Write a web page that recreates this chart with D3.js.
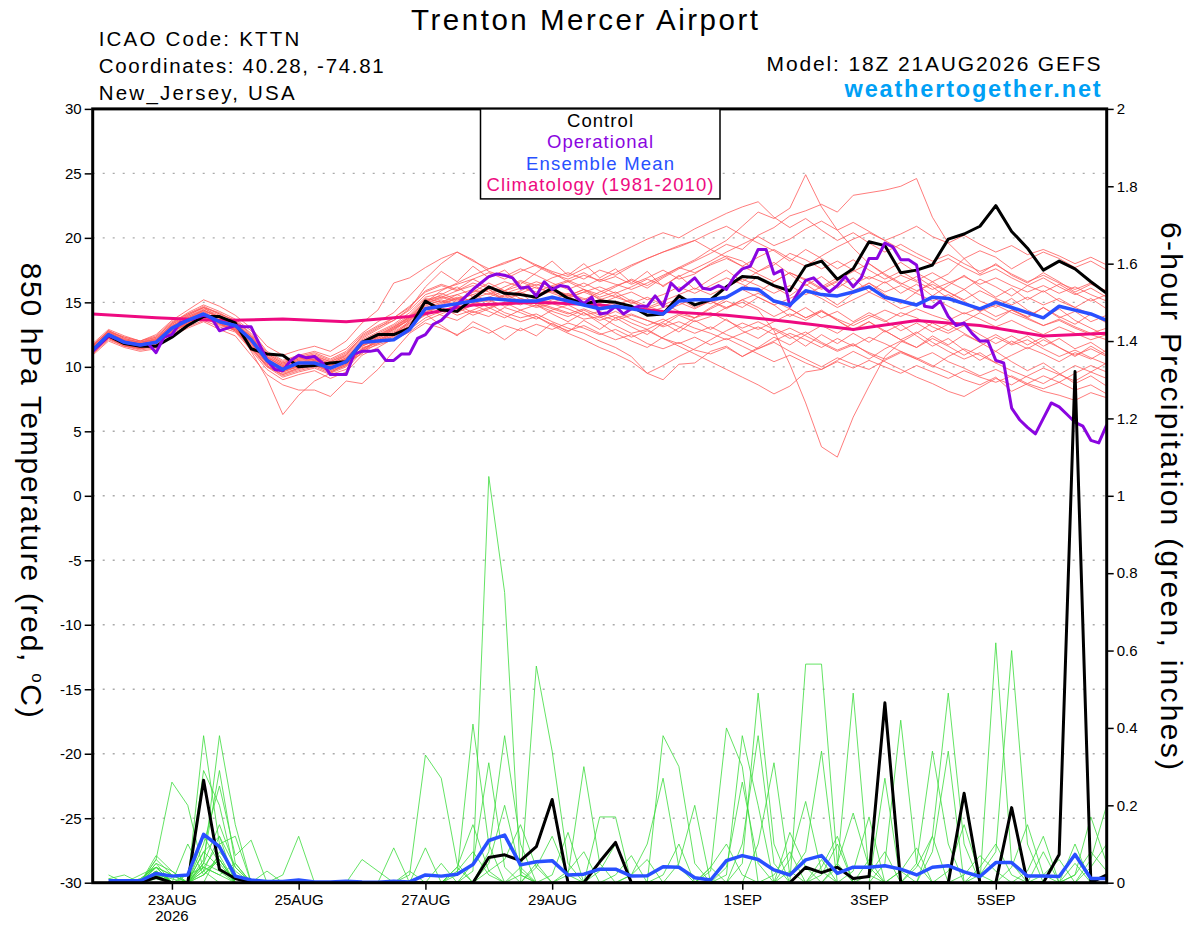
<!DOCTYPE html>
<html>
<head>
<meta charset="utf-8">
<script src="https://cdn.jsdelivr.net/npm/d3@7"></script>
<style>
  body { margin: 0; background: #fff; }
  svg { display: block; }
  text { font-family: "Liberation Sans", Arial, Helvetica, sans-serif; }
</style>
</head>
<body>
<div id="mydiv"></div>
<script>

// run start, 6-hourly steps
const runStart = Date.UTC(2026, 7, 21, 18);
const HOUR = 3600 * 1000;

const xTickDates = [Date.UTC(2026,7,23), Date.UTC(2026,7,25), Date.UTC(2026,7,27), Date.UTC(2026,7,29),
                    Date.UTC(2026,8,1), Date.UTC(2026,8,3), Date.UTC(2026,8,5)];
const xTickLabels = ['23AUG', '25AUG', '27AUG', '29AUG', '1SEP', '3SEP', '5SEP'];
const tempTicks = [-30, -25, -20, -15, -10, -5, 0, 5, 10, 15, 20, 25, 30];
const precTicks = [0, 0.2, 0.4, 0.6, 0.8, 1, 1.2, 1.4, 1.6, 1.8, 2];

// 850 hPa temperature, every 6 h from 21AUG 18Z
const controlTemp = [
  11.3,12.4,11.8,11.6,11.6,12.3,13.2,13.9,13.9,13.4,
  11.4,11.0,10.9,10.0,10.1,10.3,10.4,11.9,12.5,12.5,
  13.0,15.1,14.4,14.3,15.3,16.2,15.7,15.6,15.4,16.1,
  15.3,14.9,15.1,15.0,14.7,14.0,14.1,15.5,14.8,15.2,
  16.2,17.0,16.9,16.3,15.9,17.8,18.2,16.8,17.6,19.7,
  19.4,17.3,17.5,17.9,19.9,20.3,20.9,22.5,20.5,19.2,
  17.5,18.2,17.6,16.6,15.7];

const meanTemp = [
  11.3,12.5,11.9,11.7,11.9,13.0,13.6,14.1,13.5,13.2,
  12.1,10.5,9.8,10.3,10.3,9.9,10.4,11.9,12.0,12.1,
  12.9,14.5,14.7,14.9,15.1,15.3,15.2,15.1,15.1,15.4,
  15.1,14.8,14.5,14.7,14.5,14.3,14.1,15.1,15.2,15.2,
  15.4,16.1,16.0,15.1,14.8,15.9,15.6,15.5,15.8,16.2,
  15.4,15.1,14.8,15.4,15.3,14.9,14.5,15.0,14.6,14.2,
  13.8,14.7,14.4,14.1,13.6];

// operational run, every 3 h
const operTemp = [
  11.2,11.8,12.4,12.2,11.9,11.8,11.7,11.8,11.1,12.3,
  12.5,13.4,13.6,13.8,14.0,13.8,12.8,13.0,13.2,13.1,
  13.1,11.8,10.5,9.8,9.7,10.5,10.9,10.7,10.8,10.3,
  9.4,9.4,9.4,11.0,11.2,11.2,11.3,10.5,10.5,11.0,
  11.0,12.2,12.5,13.3,13.6,14.2,14.8,15.4,16.0,16.5,
  17.0,17.2,17.1,16.9,16.1,16.2,15.5,16.6,16.0,16.3,
  16.2,15.4,14.9,15.4,14.1,14.2,14.7,14.1,14.5,14.7,
  14.7,15.5,14.7,16.5,15.9,16.4,16.9,16.1,16.0,16.3,
  16.0,17.0,17.6,17.8,19.1,19.1,17.2,17.5,14.7,15.7,
  16.7,16.9,16.3,15.8,16.3,17.0,16.2,16.9,18.4,18.4,
  19.6,19.3,18.3,18.3,17.9,14.7,14.6,15.1,13.9,13.2,
  13.4,12.6,12.0,12.0,10.5,10.3,6.8,5.9,5.3,4.8,
  6.0,7.2,6.9,6.3,5.7,5.4,4.3,4.1,5.5];

// 1981-2010 climatology, daily from 21AUG 18Z
const climTemp = [14.1,13.8,13.6,13.7,13.5,13.9,14.8,15.0,14.8,14.3,14.0,13.5,12.9,13.6,13.2,12.4,12.6];

// ensemble members, temperature
const red01 = [11.5,12.6,12.0,11.8,12.2,13.3,13.9,14.5,14.0,13.4, 12.3,10.9,10.2,10.6,10.8,10.2,10.9,12.4,13.1,13.6,
  14.4,15.6,16.0,16.4,16.8,16.2,15.9,16.6,16.1,15.8, 15.5,16.0,15.6,16.2,16.8,16.3,17.0,17.7,18.3,19.1,
  19.8,20.9,22.0,21.5,22.3,24.9,22.4,20.6,19.2,18.0, 17.1,16.4,17.0,16.2,15.3,16.0,15.1,14.6,15.3,14.4, 13.8,14.5,13.6,13.0,12.4];
const red02 = [11.0,12.2,11.7,11.4,11.6,12.8,13.3,13.8,13.2,12.9, 11.7,10.4,9.6,10.0,10.5,10.1,10.6,11.6,12.2,12.8,
  13.7,15.2,15.5,15.1,15.8,16.0,15.4,15.9,16.4,16.0, 15.6,15.2,15.8,16.3,16.7,16.1,16.9,17.6,18.2,18.8,
  19.5,19.1,20.2,20.8,21.7,22.1,22.6,22.0,23.3,23.5, 23.7,24.0,24.6,21.6,19.6,18.4,17.2,18.0,17.1,16.5, 17.3,16.6,15.8,16.4,15.9];
const red03 = [11.3,12.3,11.6,11.5,11.8,12.9,13.6,14.3,13.6,13.0, 11.9,10.3,9.5,9.9,10.2,9.6,10.1,11.5,11.8,12.3,
  13.0,14.2,14.8,15.3,14.9,15.2,14.7,15.0,14.6,14.9, 14.5,14.0,14.3,13.8,14.1,13.6,13.2,14.0,13.5,13.9,
  14.6,15.0,14.4,12.8,10.2,7.2,3.8,3.0,6.1,8.5, 10.8,11.9,12.6,13.4,12.8,13.5,14.2,13.6,14.4,13.9, 14.6,13.8,14.3,13.5,14.0];
const red04 = [11.6,12.8,12.2,11.9,12.1,13.1,14.0,14.6,13.8,13.1, 11.2,9.1,6.3,7.8,8.9,9.5,10.3,11.0,12.4,13.0,
  13.9,14.6,14.0,13.6,14.3,13.9,14.6,14.2,13.7,14.4, 14.8,14.2,13.6,14.0,13.4,12.9,13.5,14.1,13.8,14.5,
  15.1,14.6,15.4,14.8,13.9,14.6,13.8,14.3,13.5,14.2, 13.6,12.8,13.4,12.7,13.3,12.6,11.9,12.5,11.8,12.4, 11.6,12.2,11.4,11.9,11.1];
const red05 = [11.8,12.9,12.4,12.0,12.5,13.6,14.4,15.2,14.7,14.0, 13.0,11.6,10.9,11.3,11.6,11.2,12.0,13.4,14.4,16.5,
  16.9,17.7,18.4,18.9,18.2,17.6,18.0,18.5,17.8,17.2, 16.8,17.3,16.6,17.0,16.4,16.9,17.5,16.8,17.2,18.0,
  18.6,18.2,17.4,17.9,18.8,18.3,17.6,18.2,17.5,16.8, 17.4,18.1,17.3,16.6,17.2,18.4,19.0,18.5,17.6,18.3, 18.9,18.4,17.7,18.2,17.5];
const red06 = [11.2,12.4,11.8,11.6,11.7,12.6,13.2,13.9,13.4,12.8, 11.5,10.0,9.2,9.6,9.9,9.4,9.8,11.2,12.0,12.6,
  13.4,14.3,14.6,14.0,14.4,14.9,14.2,13.8,14.1,13.5, 13.0,12.6,12.0,11.5,10.8,9.5,9.0,10.2,10.3,11.2,
  11.6,10.8,11.5,12.3,11.7,12.5,13.2,12.6,13.4,14.0, 13.5,14.2,13.8,13.1,12.6,13.2,12.5,11.8,12.4,11.7, 12.3,11.5,10.9,11.4,10.8];
const red07 = [11.4,12.5,12.0,11.7,12.0,13.0,13.7,14.2,13.7,13.3, 12.4,10.8,10.0,10.4,10.6,10.2,10.7,11.8,12.3,13.0,
  13.6,14.9,15.3,15.6,15.0,15.4,15.9,15.3,15.0,14.6, 14.2,13.7,13.9,13.2,12.6,12.9,12.2,11.6,11.0,10.4,
  9.8,9.2,8.6,7.9,8.5,9.6,9.8,10.5,11.2,10.6, 11.4,12.0,11.5,12.2,11.6,10.9,11.6,12.3,11.7,12.1, 11.4,10.8,11.3,10.7,10.2];
const red08 = [11.7,12.7,12.1,11.9,12.3,13.4,14.2,14.8,14.3,13.7, 12.8,11.2,10.5,10.9,11.2,10.8,11.4,12.6,13.5,14.2,
  15.5,16.8,18.0,18.9,18.3,17.4,17.0,17.6,17.1,16.5, 16.0,16.5,15.9,15.4,15.8,15.2,15.6,16.2,15.7,16.3,
  16.9,16.4,15.8,16.6,17.3,16.8,16.1,16.7,17.4,18.0, 17.2,16.5,15.9,16.4,15.8,15.2,15.9,15.3,14.8,15.4, 14.8,15.3,14.6,14.1,13.7];
const red09 = [11.1,12.3,11.7,11.5,11.9,12.8,13.5,14.0,13.5,13.1, 12.0,10.6,9.9,10.2,10.4,9.9,10.5,11.7,12.2,12.9,
  13.8,15.0,15.9,16.5,17.1,17.6,18.1,18.5,17.9,17.3, 16.6,16.0,15.4,15.8,15.1,14.5,14.9,14.3,13.8,14.2,
  13.6,13.0,13.5,12.9,12.2,12.7,11.9,11.3,11.8,11.0, 10.4,9.8,9.2,8.7,8.1,7.7,8.4,9.1,8.6,9.3, 9.9,9.4,10.1,9.6,10.3];
const red10 = [11.5,12.6,12.1,11.8,12.0,13.1,13.8,14.3,13.9,13.5, 12.2,10.7,10.1,10.5,10.7,10.3,10.8,12.0,12.6,13.2,
  14.0,15.3,15.0,15.6,16.0,15.6,16.2,16.7,16.3,16.9, 17.3,16.8,17.5,17.1,17.8,18.4,18.9,19.4,19.8,20.4,
  20.9,20.2,19.6,19.0,18.2,19.1,18.4,17.6,18.3,17.5, 16.8,17.4,16.7,17.3,16.6,16.0,16.8,16.2,15.5,16.3, 15.8,16.4,15.7,15.1,15.6];
const red11 = [11.3,12.4,11.9,11.6,11.9,12.9,13.4,14.1,13.6,13.2, 11.8,10.2,9.6,10.1,10.3,9.8,10.3,11.3,12.1,12.7,
  13.5,14.8,15.1,14.7,15.3,15.7,15.2,14.8,15.4,15.9, 15.4,15.0,14.6,15.1,14.7,14.2,14.6,15.0,14.5,15.1,
  14.6,15.2,15.7,15.1,14.5,13.8,14.3,13.6,12.9,13.5, 12.8,12.1,12.7,11.9,11.2,10.6,11.1,10.3,9.7,9.2, 8.7,9.4,8.9,9.6,9.1];
const red12 = [11.0,12.1,11.6,11.3,11.5,12.5,13.1,13.6,13.1,12.7, 11.3,9.8,9.0,9.4,9.7,9.1,9.6,10.9,11.5,12.2,
  12.9,13.8,14.3,14.8,14.2,14.6,14.0,13.5,13.9,13.3, 12.8,13.2,12.6,12.1,12.5,11.8,11.4,11.9,11.3,11.0,
  11.5,10.8,11.4,12.0,12.6,12.1,11.5,12.2,11.6,12.3, 11.8,11.2,10.6,11.1,10.4,9.9,9.3,9.8,9.2,8.6, 8.1,7.8,7.4,8.0,7.6];
const red13 = [11.6,12.7,12.3,12.0,12.4,13.5,14.1,14.7,14.1,13.6, 12.6,11.1,10.4,10.8,11.1,10.6,11.2,12.5,13.2,13.8,
  14.7,15.8,16.3,15.9,16.5,16.1,16.6,16.2,15.8,16.3, 16.7,16.2,16.8,16.4,16.0,16.5,17.1,17.7,17.3,17.9,
  18.4,17.8,18.5,19.1,18.4,17.8,18.6,19.3,19.9,20.4, 19.8,20.3,20.9,20.1,19.6,20.2,19.5,18.9,19.4,18.7, 19.1,18.6,18.0,18.5,17.9];
const red14 = [11.4,12.5,11.9,11.7,11.9,12.9,13.5,14.0,13.4,13.0, 11.9,10.5,9.8,10.2,10.5,10.0,10.4,11.7,12.0,12.4,
  13.2,14.5,14.9,15.3,15.6,15.1,15.5,15.8,15.3,15.0, 15.4,15.8,15.3,14.8,15.2,14.7,14.3,14.8,15.3,14.9,
  15.5,16.0,15.4,14.8,15.3,15.9,15.3,14.6,15.2,15.8, 15.2,14.5,14.9,15.4,14.7,14.1,14.6,13.9,14.4,13.8, 13.2,13.7,13.1,12.6,13.0];
const red15 = [11.2,12.2,11.7,11.4,11.6,12.7,13.3,13.9,13.3,12.9, 11.6,10.1,9.3,9.7,10.0,9.5,10.0,11.4,11.9,12.5,
  13.3,14.0,14.5,14.2,14.8,14.3,13.8,14.4,13.9,13.2, 12.6,12.1,11.5,11.0,10.4,9.5,10.1,10.8,11.4,12.1,
  12.8,13.4,12.9,13.5,14.1,13.6,14.3,13.7,13.2,13.8, 14.4,13.9,14.5,14.0,13.6,14.2,13.7,13.1,13.6,13.0, 12.5,13.1,12.6,12.1,12.5];
const red16 = [11.6,12.8,12.2,11.9,12.2,13.2,13.9,14.4,13.9,13.3, 12.3,10.8,10.2,10.6,10.8,10.4,10.9,12.1,12.7,13.3,
  14.2,15.4,15.7,15.2,15.6,16.1,15.7,16.1,16.6,16.2, 16.6,17.1,16.7,17.3,17.9,18.4,18.9,19.3,19.8,19.1,
  18.5,17.8,17.2,16.6,17.3,16.7,16.0,16.6,15.9,16.5, 15.8,16.3,15.7,15.1,15.6,14.9,14.3,14.8,14.2,13.7, 13.2,13.6,13.0,12.5,12.1];
const red17 = [11.3,12.4,11.8,11.5,11.8,12.8,13.4,14.0,13.5,12.9, 11.6,10.3,9.7,10.0,10.2,9.7,10.2,11.4,12.0,12.6,
  13.4,14.6,15.0,15.4,15.1,14.6,15.0,15.3,14.9,14.5, 14.1,14.5,14.0,13.6,14.0,13.6,13.1,13.5,13.0,12.6,
  12.1,12.6,13.1,12.5,13.0,12.4,11.8,11.2,11.7,11.1, 10.6,11.2,10.7,10.1,9.6,9.0,8.6,9.2,8.1,8.7, 9.3,8.8,9.5,10.1,9.6];
const red18 = [11.5,12.6,12.0,11.7,12.1,13.2,13.7,14.4,13.8,13.4, 12.1,10.6,10.0,10.3,10.6,10.1,10.6,11.9,12.5,13.1,
  13.9,15.1,15.4,15.9,16.3,15.8,15.3,15.7,16.2,15.7, 15.3,15.8,16.2,15.7,16.2,16.8,16.3,17.0,17.6,18.2,
  18.9,19.5,20.1,19.4,19.9,20.7,21.3,20.6,21.2,20.5, 19.8,19.1,18.5,17.9,18.4,17.7,17.1,17.6,16.9,16.3, 16.9,16.2,15.6,16.1,15.4];
const red19 = [11.4,12.4,11.9,11.7,12.0,13.0,13.6,14.1,13.6,13.2, 12.0,10.5,9.9,10.3,10.5,10.0,10.6,11.8,12.4,13.1,
  13.8,14.7,15.2,14.8,15.4,15.0,15.6,15.1,14.7,15.2, 15.7,15.3,14.9,15.4,15.0,14.6,15.1,15.6,16.1,15.6,
  16.2,16.8,16.3,15.7,16.3,15.6,16.2,16.9,16.4,17.0, 16.5,17.1,16.6,16.0,16.5,17.0,16.4,16.9,16.3,15.8, 16.3,15.7,16.2,15.6,15.1];
const red20 = [11.2,12.3,11.7,11.5,11.7,12.7,13.4,13.8,13.3,12.8, 11.4,10.0,9.4,9.8,10.1,9.6,10.1,11.3,11.7,12.1,
  12.7,13.6,14.1,14.6,14.0,14.5,15.0,14.4,14.8,14.3, 13.9,14.4,13.8,14.3,13.7,13.2,13.7,13.1,12.6,13.1,
  12.5,12.0,11.4,11.9,11.2,10.6,10.0,10.7,10.2,9.8, 10.5,11.1,10.6,10.0,10.8,11.4,10.9,10.3,10.9,11.5, 11.0,10.4,11.1,10.6,11.3];
const red21 = [11.7,12.8,12.3,12.0,12.3,13.4,14.0,14.6,14.1,13.6, 12.5,11.0,10.3,10.7,11.0,10.5,11.1,12.3,13.0,13.8,
  14.6,15.9,16.4,16.0,16.8,17.3,16.8,17.4,17.9,17.4, 17.0,17.6,18.1,18.7,19.3,19.9,20.4,20.0,20.7,21.3,
  21.9,22.4,22.8,21.6,20.8,21.5,20.6,19.8,20.4,19.6, 18.9,19.5,18.8,18.2,18.7,18.0,17.4,17.9,17.2,16.6, 17.1,16.5,16.0,16.5,15.8];
const red22 = [10.9,12.0,11.5,11.2,11.4,12.4,13.0,13.5,12.9,12.4, 10.9,9.4,8.6,8.2,8.2,7.7,8.9,8.7,9.8,11.2,
  12.6,13.4,13.0,12.5,13.1,12.6,13.2,12.8,13.3,12.9, 13.4,13.0,12.5,12.9,12.3,12.8,12.2,11.8,12.3,11.7,
  12.2,11.6,11.0,10.4,10.9,10.3,9.8,10.4,9.9,10.5, 10.0,9.5,10.1,9.6,9.1,9.7,9.2,8.8,9.3,8.7, 8.3,8.8,8.2,8.6,7.9];
const red23 = [11.4,12.3,11.8,11.6,11.8,12.7,13.5,14.0,13.6,13.0, 11.8,10.4,9.7,10.1,10.4,9.9,10.4,11.6,12.1,12.6,
  13.1,14.1,13.2,12.4,13.5,12.9,12.1,13.0,12.4,13.4, 12.7,13.6,12.9,13.8,13.1,12.5,13.4,12.7,13.6,12.9,
  13.7,12.8,12.2,13.0,12.4,11.6,12.5,11.8,12.6,11.9, 12.8,12.1,11.5,12.4,11.7,12.5,11.9,11.2,12.0,11.4, 12.1,11.5,10.8,11.6,10.9];
const red24 = [11.6,12.7,12.1,11.9,12.1,13.3,14.1,14.6,14.2,13.5, 12.4,11.0,10.3,10.7,10.9,10.4,11.0,12.2,12.9,13.6,
  14.5,16.2,17.4,16.6,17.8,16.9,17.5,16.4,17.3,18.2, 17.1,18.0,16.9,17.6,16.5,17.4,16.2,17.1,16.0,16.8,
  17.5,16.6,17.4,18.1,17.2,16.3,17.0,16.1,16.9,15.8, 16.6,15.7,16.4,15.5,16.3,17.1,16.2,15.4,16.1,15.2, 15.9,15.1,14.6,15.3,14.5];
const red25 = [11.2,12.2,11.6,11.4,11.7,12.8,13.3,13.9,13.4,12.8, 11.5,10.1,9.4,9.9,10.1,9.7,10.2,11.1,11.8,12.4,
  13.6,15.0,15.6,16.2,15.4,16.0,15.1,15.7,14.8,14.1, 13.5,14.2,13.4,12.6,12.0,11.5,12.3,13.0,13.8,14.6,
  15.3,16.1,17.0,16.2,15.5,16.4,15.6,14.8,15.7,16.5, 15.6,14.9,15.8,16.6,15.8,15.1,14.3,15.2,14.5,13.8, 14.6,13.9,13.3,14.1,13.4];
const red26 = [11.5,12.5,12.0,11.7,12.0,13.0,13.8,14.4,13.8,13.2, 12.1,10.7,10.1,10.5,10.6,10.1,10.7,11.9,12.3,12.9,
  13.7,14.9,15.4,15.0,15.8,16.5,15.9,16.3,15.6,16.1, 15.5,16.0,15.2,15.6,14.9,15.4,14.8,15.3,14.6,15.1,
  14.5,15.2,14.6,13.9,14.5,13.8,14.4,13.6,12.8,13.5, 12.7,13.3,12.4,11.6,12.2,11.3,10.5,11.2,10.4,9.7, 10.3,9.5,8.7,9.3,8.5];

// 6-hour precipitation (inches), ending 22AUG 00Z .. 6SEP 18Z
const controlPrec = [
  0,0,0,.014,0,0,.265,.034, .011,0,0,0,0,0,0,0, 0,0,0,0,0,0,0,0, .065,.072,.057,.093,.215,0,0,.054,
  .104,0,0,0,0,0,0,0, 0,0,0,0,.04,.026,.04,.011, .016,.465,0,0,0,0,.231,0, 0,.194,0,0,.073,1.321,0,.02];
const meanPrec = [
  .005,.005,.005,.024,.017,.02,.125,.093, .017,.007,.003,.003,.007,.002,.002,.004,
  .002,.001,.004,.002,.02,.017,.022,.047, .109,.123,.046,.054,.057,.02,.022,.035,
  .035,.017,.018,.041,.04,.013,.007,.057, .07,.06,.033,.02,.059,.07,.024,.04,
  .04,.044,.035,.02,.04,.044,.028,.016, .052,.052,.017,.017,.016,.073,.011,.011];

const green01 = [0,0,0,.06,.26,.20,.03,0, 0,0,0,0,0,0,0,0, .06,.03,0,0,0,0,0,0, 0,0,0,.56,.34,.05,0,0,
  0,0,0,0,0,0,0,0, 0,0,0,0,.565,.565,.05,0, 0,0,0,0,0,0,0,0, .62,.05,0,0,0,0,0,0];
const green02 = [0,0,0,.01,0,0,.38,.10, .12,0,0,0,0,0,0,0, 0,0,0,0,0,0,.02,.41, .10,0,0,0,0,0,0,0,
  0,0,0,0,0,0,.03,.40, .30,0,0,0,0,0,.04,.49, .02,0,0,0,0,0,0,0, 0,0,0,0,0,.10,0,0];
const green03 = [0,0,0,.02,0,0,.05,.38, .15,0,0,0,0,0,0,0, 0,0,0,0,0,0,0,.03, 1.05,.75,.02,0,0,0,0,0,
  0,0,0,0,0,0,0,0, .05,.49,.10,0,0,0,0,0, 0,0,0,0,0,0,0,.02, .08,.60,.10,0,0,0,0,0];
const green04 = [.01,0,0,.03,0,0,.29,.20, .02,0,0,0,0,0,0,0, 0,0,0,.02,.33,.27,.05,0, 0,0,0,0,0,0,0,0,
  0,0,0,.38,.30,.05,0,0, 0,0,0,0,0,0,0,0, 0,0,0,.04,.12,.49,.10,0, 0,0,0,0,0,0,0,0];
const green05 = [0,0,.01,.04,.02,0,.06,.29, .05,0,0,0,0,0,0,0, 0,0,0,0,0,0,0,0, 0,0,0,0,0,.02,.30,.05,
  0,0,0,0,0,0,0,.02, .38,.20,0,0,0,0,0,0, 0,.05,.42,.05,0,0,0,0, 0,0,0,0,0,0,0,0];
const green06 = [0,0,0,.05,0,0,.10,.25, .07,.11,0,0,0,0,0,0, 0,0,0,0,0,0,0,0, .08,.38,.10,0,0,0,0,0,
  0,0,0,0,0,0,0,0, 0,0,0,.03,0,0,0,0, 0,0,0,.05,.34,.10,0,0, 0,0,0,0,0,.02,.17,.05];
const green07 = [0,0,0,.04,.02,0,0,.08, .03,0,0,.02,.12,0,0,0, 0,0,0,0,0,0,0,0, 0,0,.04,0,0,0,0,.17,
  .17,0,0,0,0,0,0,0, 0,0,0,0,0,.06,0,0, 0,.27,0,0,0,0,0,0, 0,0,.03,.12,0,0,0,0];
const green08 = [0,0,0,.06,.02,0,.12,.05, 0,0,0,0,0,0,0,0, 0,0,.09,0,0,0,0,.05, .31,.04,0,0,0,0,0,0,
  0,0,0,0,0,0,0,0, 0,.10,.31,.02,.08,.34,0,0, 0,0,0,0,0,0,0,0, 0,0,0,0,0,0,.04,.10];
const green09 = [.01,.02,0,.04,0,0,.08,.12, 0,0,0,0,0,0,0,0, 0,0,0,0,.09,0,0,0, 0,0,0,0,0,0,0,0,
  0,.02,.10,.27,.04,0,0,0, 0,0,0,.06,.21,.03,0,0, 0,0,0,0,.08,.34,0,0, 0,0,0,0,0,0,0,0];
const green10 = [0,0,.01,.04,0,.02,.04,.10, 0,0,0,0,0,0,0,0, 0,0,0,0,0,0,.03,.08, .02,0,0,0,0,0,0,0,
  0,0,0,0,.05,.20,0,0, 0,0,0,0,0,.02,.10,0, 0,0,0,0,0,0,.02,.07, .03,0,0,0,0,0,0,0];
const green11 = [0,0,0,.02,.01,0,.03,.12, .04,0,0,0,0,0,0,0, 0,0,0,0,0,.05,0,0, 0,0,.02,0,0,0,0,0,
  0,0,0,0,0,0,.04,.10, .02,0,0,0,0,0,.05,.18, .04,0,0,0,0,.03,.15,.02, 0,0,0,0,0,0,0,0];
const green12 = [0,0,0,.03,0,0,.08,.04, 0,0,0,0,0,0,0,0, 0,0,0,0,0,0,0,0, .03,.06,.15,.04,0,0,0,0,
  0,0,0,0,0,0,0,0, .10,.38,.05,0,0,0,0,.03, .17,0,0,0,0,0,0,0, 0,.04,.15,.02,0,0,0,0];
const green13 = [0,0,0,.05,.03,0,.02,.06, 0,0,0,0,0,0,0,0, 0,0,0,0,0,0,0,0, 0,0,0,.04,.12,.02,0,0,
  0,0,0,0,0,0,0,0, 0,0,.02,.08,0,0,0,0, 0,0,0,0,0,0,0,0, 0,0,0,.02,.06,0,0,0];
const green14 = [0,0,0,.02,0,0,.04,.02, .05,0,0,0,0,0,0,0, 0,0,0,0,0,0,.04,0, 0,0,0,0,0,0,0,0,
  .02,.07,0,0,0,0,0,0, 0,0,0,0,0,0,0,0, 0,0,.03,.09,0,0,0,0, 0,0,0,0,0,.05,0,0];
const green15 = [0,0,0,.03,0,.10,.02,.06, 0,0,0,0,0,0,0,0, 0,0,0,0,0,0,0,0, .05,.20,.03,0,0,0,0,0,
  0,0,0,.02,.10,0,0,0, 0,0,0,0,0,0,0,0, 0,0,0,0,0,0,0,.04, .10,.02,0,0,0,0,0,0];
const green16 = [0,0,.02,.04,0,0,.05,.03, 0,0,0,0,0,0,0,0, 0,0,0,0,0,0,0,0, 0,0,0,.05,0,0,0,0,
  0,0,0,0,0,0,0,.04, .26,.05,0,0,0,0,0,0, .02,.08,0,0,0,0,0,0, 0,0,0,0,0,0,0,0];
const green17 = [0,0,0,.04,0,0,.02,.07, 0,0,.03,0,0,0,0,0, 0,0,0,0,0,0,0,0, 0,0,0,0,.02,.13,0,0,
  0,0,0,0,0,0,.04,0, 0,0,0,0,0,0,0,0, 0,0,.03,0,.12,0,0,0, 0,0,0,0,0,0,0,0];
const green18 = [.02,0,0,.03,0,0,.04,.02, 0,0,0,0,0,0,0,0, 0,0,0,0,0,0,.04,.15, .03,0,0,0,0,0,0,0,
  0,.02,.06,0,0,0,0,0, 0,0,0,0,0,0,0,0, 0,0,0,0,0,0,0,0, 0,0,0,0,0,.02,.08,.03];
const green19 = [0,0,0,.07,.03,0,.05,.15, .04,0,0,0,0,0,0,0, 0,0,0,0,0,0,0,0, 0,0,0,0,0,.03,.08,0,
  0,0,0,0,0,0,0,0, 0,0,0,.13,.04,0,0,0, .06,0,0,0,0,0,0,0, 0,0,0,0,0,0,0,0];
const green20 = [0,0,0,.02,.02,0,.03,.06, 0,0,0,0,0,0,0,0, 0,0,0,.03,0,0,0,0, 0,0,0,0,0,0,0,.03,
  .10,0,0,0,0,0,0,0, 0,0,0,0,0,.04,.12,0, 0,0,0,0,0,0,0,0, 0,0,0,.08,0,0,.06,.20];

const tempMembers = [red01, red02, red03, red04, red05, red06, red07, red08, red09, red10, red11, red12, red13,
  red14, red15, red16, red17, red18, red19, red20, red21, red22, red23, red24, red25, red26];
const precMembers = [green01, green02, green03, green04, green05, green06, green07, green08, green09, green10,
  green11, green12, green13, green14, green15, green16, green17, green18, green19, green20];


// plot box
const boxL = 92.7, boxR = 1106.7, boxT = 108.9, boxB = 882.7;

const svg = d3.select("#mydiv")
  .append("svg")
  .attr("width", 1200)
  .attr("height", 927)
  .style("background-color", "white")

const x = d3.scaleUtc()
  .domain([new Date(runStart), new Date(runStart + 384 * HOUR)])
  .range([boxL, boxR]);
const yT = d3.scaleLinear().domain([-30, 30]).range([boxB, boxT]);
const yP = d3.scaleLinear().domain([0, 2]).range([boxB, boxT]);

const tLine = (stepH) => d3.line()
  .x((d, i) => x(new Date(runStart + i * stepH * HOUR)))
  .y(d => yT(d));
const pLine = d3.line()
  .x((d, i) => x(new Date(runStart + (i + 1) * 6 * HOUR)))
  .y(d => yP(d));

svg.append("clipPath").attr("id", "plotclip")
  .append("rect")
  .attr("x", boxL).attr("y", boxT)
  .attr("width", boxR - boxL).attr("height", boxB - boxT)

// dotted grid at the temperature ticks
svg.append("g")
  .selectAll("line")
  .data(tempTicks.filter(d => d > -30 && d < 30))
  .enter().append("line")
  .attr("x1", boxL).attr("x2", boxR)
  .attr("y1", d => yT(d)).attr("y2", d => yT(d))
  .style("stroke", "#aaa")
  .style("stroke-width", 1.4)
  .style("stroke-dasharray", "2,8")

const plot = svg.append("g").attr("clip-path", "url(#plotclip)")

plot.append("g").selectAll("path")
  .data(tempMembers).enter().append("path")
  .attr("d", tLine(6))
  .style("fill", "none")
  .style("stroke", "#ff5a5a")
  .style("stroke-width", 0.8)

plot.append("g").selectAll("path")
  .data(precMembers).enter().append("path")
  .attr("d", pLine)
  .style("fill", "none")
  .style("stroke", "#3cdc3c")
  .style("stroke-width", 0.8)

plot.append("path")
  .attr("d", tLine(24)(climTemp))
  .style("fill", "none").style("stroke", "#ee0a80").style("stroke-width", 3)

plot.append("path")
  .attr("d", tLine(6)(controlTemp))
  .style("fill", "none").style("stroke", "black").style("stroke-width", 3)
  .style("stroke-linejoin", "round")

plot.append("path")
  .attr("d", tLine(3)(operTemp))
  .style("fill", "none").style("stroke", "#8a05e0").style("stroke-width", 3)
  .style("stroke-linejoin", "round")

plot.append("path")
  .attr("d", tLine(6)(meanTemp))
  .style("fill", "none").style("stroke", "#2850ff").style("stroke-width", 3.5)
  .style("stroke-linejoin", "round")

plot.append("path")
  .attr("d", pLine(controlPrec))
  .style("fill", "none").style("stroke", "black").style("stroke-width", 3)
  .style("stroke-linejoin", "round")

plot.append("path")
  .attr("d", pLine(meanPrec))
  .style("fill", "none").style("stroke", "#2850ff").style("stroke-width", 3.5)
  .style("stroke-linejoin", "round")

// frame
svg.append("rect")
  .attr("x", boxL).attr("y", boxT)
  .attr("width", boxR - boxL).attr("height", boxB - boxT)
  .style("fill", "none").style("stroke", "black").style("stroke-width", 3)

// axes
const styleAxis = g => {
  g.select(".domain").remove();
  g.selectAll(".tick line").style("stroke", "black").style("stroke-width", 1.5);
  g.selectAll(".tick text")
    .style("font-family", '"Liberation Sans", Arial, sans-serif')
    .style("font-size", "15px")
    .style("fill", "black");
};

svg.append("g")
  .attr("transform", `translate(${boxL - 1},0)`)
  .call(d3.axisLeft(yT).tickValues(tempTicks).tickFormat(d => String(d)).tickSize(7).tickPadding(3))
  .call(styleAxis)

svg.append("g")
  .attr("transform", `translate(${boxR + 1},0)`)
  .call(d3.axisRight(yP).tickValues(precTicks).tickFormat(d => String(d)).tickSize(6).tickPadding(3))
  .call(styleAxis)

const xAxis = svg.append("g")
  .attr("transform", `translate(0,${boxB + 1})`)
  .call(d3.axisBottom(x).tickValues(xTickDates.map(d => new Date(d)))
    .tickFormat((d, i) => xTickLabels[i]).tickSize(6).tickPadding(5))
  .call(styleAxis)

xAxis.append("text")
  .attr("x", x(new Date(xTickDates[0])))
  .attr("y", 37)
  .attr("text-anchor", "middle")
  .style("font-size", "15px")
  .style("fill", "black")
  .text("2026")

// legend
const lg = svg.append("g")
lg.append("rect")
  .attr("x", 480.5).attr("y", boxT).attr("width", 239.5).attr("height", 90)
  .style("fill", "white").style("stroke", "black").style("stroke-width", 1.5)

const legendItems = [
  { label: "Control", color: "black", y: 126.7, w: 66 },
  { label: "Operational", color: "#8a05e0", y: 148, w: 106 },
  { label: "Ensemble Mean", color: "#2850ff", y: 169.6, w: 148 },
  { label: "Climatology (1981-2010)", color: "#ee0a80", y: 191.3, w: 227 }
];
lg.selectAll("text.leg")
  .data(legendItems).enter().append("text")
  .attr("class", "leg")
  .attr("x", 600).attr("y", d => d.y)
  .attr("text-anchor", "middle")
  .attr("textLength", d => d.w)
  .attr("lengthAdjust", "spacing")
  .style("font-size", "18.5px")
  .style("fill", d => d.color)
  .text(d => d.label)

// header texts
const header = [
  { t: "Trenton Mercer Airport", x: 584.5, y: 29.5, size: 29.5, w: 347, anchor: "middle", color: "black", bold: false },
  { t: "ICAO Code: KTTN", x: 98.7, y: 45.7, size: 20.5, w: 200.6, anchor: "start", color: "black", bold: false },
  { t: "Coordinates: 40.28, -74.81", x: 98.7, y: 73.3, size: 20.5, w: 285, anchor: "start", color: "black", bold: false },
  { t: "New_Jersey, USA", x: 98.7, y: 100, size: 20.5, w: 196, anchor: "start", color: "black", bold: false },
  { t: "Model: 18Z 21AUG2026 GEFS", x: 1100.6, y: 70.7, size: 21, w: 334, anchor: "end", color: "black", bold: false },
  { t: "weathertogether.net", x: 1100.6, y: 96.7, size: 23.5, w: 256, anchor: "end", color: "#00a0f5", bold: true }
];
svg.append("g").selectAll("text")
  .data(header).enter().append("text")
  .attr("x", d => d.x).attr("y", d => d.y)
  .attr("text-anchor", d => d.anchor)
  .attr("textLength", d => d.w)
  .attr("lengthAdjust", "spacing")
  .style("font-size", d => d.size + "px")
  .style("font-weight", d => d.bold ? "bold" : "normal")
  .style("fill", d => d.color)
  .text(d => d.t)

// axis titles, both read top to bottom
const lt = svg.append("text")
  .attr("transform", "translate(20.5,491) rotate(90)")
  .attr("text-anchor", "middle")
  .style("font-size", "30px")
  .style("letter-spacing", "1.7px")
  .style("fill", "black")
lt.append("tspan").text("850 hPa Temperature (red, ")
lt.append("tspan").attr("dy", -11).style("font-size", "17px").text("o")
lt.append("tspan").attr("dy", 11).text("C)")

svg.append("text")
  .attr("transform", "translate(1161,496) rotate(90)")
  .attr("text-anchor", "middle")
  .attr("textLength", 548)
  .attr("lengthAdjust", "spacing")
  .style("font-size", "30px")
  .style("fill", "black")
  .text("6-hour Precipitation (green, inches)")

</script>
</body>
</html>
